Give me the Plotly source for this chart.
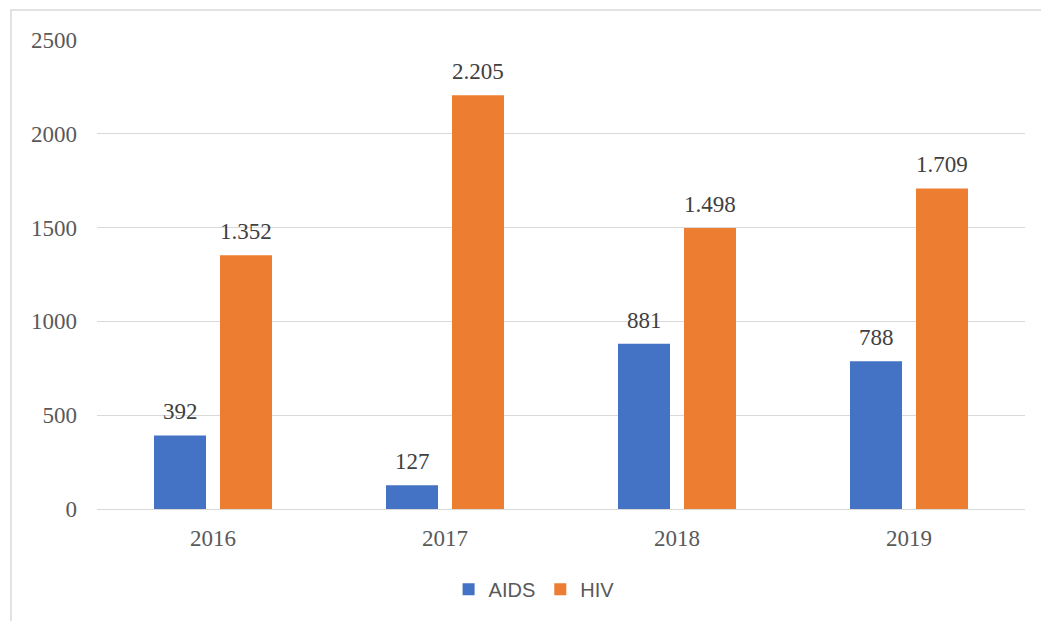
import plotly.graph_objects as go

years = ["2016", "2017", "2018", "2019"]
aids = [392, 127, 881, 788]
hiv = [1352, 2205, 1498, 1709]
aids_labels = ["392", "127", "881", "788"]
hiv_labels = ["1.352", "2.205", "1.498", "1.709"]

BLUE = "#4472C4"
ORANGE = "#ED7D31"
SERIF = "Liberation Serif, Times New Roman, serif"
SANS = "Liberation Sans, Arial, sans-serif"

fig = go.Figure()
fig.add_trace(go.Bar(x=years, y=aids, name="AIDS", marker=dict(color=BLUE, line=dict(width=0))))
fig.add_trace(go.Bar(x=years, y=hiv, name="HIV", marker=dict(color=ORANGE, line=dict(width=0))))

annotations = []
for i, (v, t) in enumerate(zip(aids, aids_labels)):
    annotations.append(dict(x=i, y=v, text=t, showarrow=False, xref="x", yref="y",
                            xshift=-33, yshift=9, yanchor="bottom",
                            font=dict(family=SERIF, size=23, color="#404040")))
for i, (v, t) in enumerate(zip(hiv, hiv_labels)):
    annotations.append(dict(x=i, y=v, text=t, showarrow=False, xref="x", yref="y",
                            xshift=33, yshift=9, yanchor="bottom",
                            font=dict(family=SERIF, size=23, color="#404040")))

fig.update_layout(
    width=1041, height=613,
    margin=dict(l=89, r=24, t=32, b=112),
    paper_bgcolor="white", plot_bgcolor="white",
    barmode="group", bargap=0.431, bargroupgap=0.212,
    annotations=annotations,
    showlegend=True,
    legend=dict(orientation="h", x=0.471, xanchor="center", y=-0.171, yanchor="middle",
                font=dict(family=SANS, size=20, color="#595959"), itemwidth=30),
    xaxis=dict(type="category", categoryorder="array", categoryarray=years,
               range=[-0.5, len(years) - 0.5], autorange=False,
               showgrid=False, showline=False, ticks="", ticklabelstandoff=13,
               tickfont=dict(family=SERIF, size=23, color="#595959")),
    yaxis=dict(range=[0, 2500], autorange=False, tickvals=[0, 500, 1000, 1500, 2000, 2500],
               showgrid=True, gridcolor="#D9D9D9", gridwidth=1,
               zeroline=True, zerolinecolor="#D9D9D9", zerolinewidth=1,
               showline=False, ticks="", ticklabelstandoff=19,
               tickfont=dict(family=SERIF, size=23, color="#595959")),
    shapes=[dict(type="rect", xref="paper", yref="paper",
                 x0=-0.0927, x1=1.2, y0=-0.4, y1=1.064,
                 line=dict(color="#D9D9D9", width=1.5), fillcolor="rgba(0,0,0,0)", layer="below")],
)

fig.write_html("out.html")
